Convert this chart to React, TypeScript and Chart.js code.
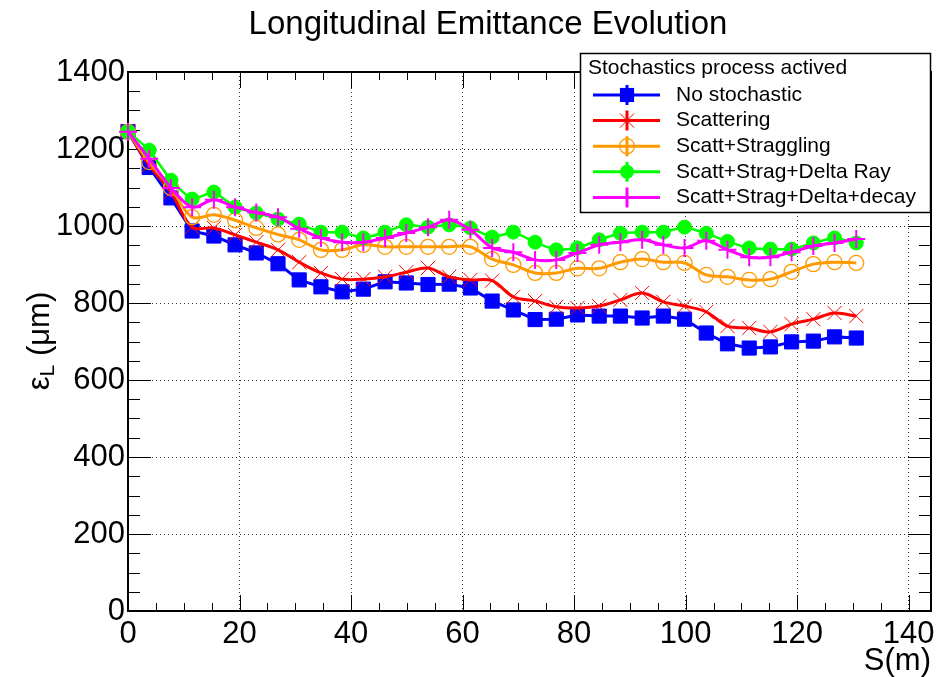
import React, { useEffect, useRef } from 'react';
import { Chart, registerables } from 'chart.js';

Chart.register(...registerables);

// ---- data ----
const S_M = [0, 3.8, 7.7, 11.5, 15.4, 19.2, 23.0, 26.9, 30.7, 34.6, 38.4, 42.2, 46.1, 49.9, 53.8, 57.6, 61.4, 65.3, 69.1, 73.0, 76.8, 80.6, 84.5, 88.3, 92.2, 96.0, 99.8, 103.7, 107.5, 111.4, 115.2, 119.0, 122.9, 126.7, 130.6];

const NO_STOCHASTIC = [1245, 1152, 1073, 987, 974, 951, 930, 902, 860, 842, 829, 836, 855, 852, 848, 849, 839, 805, 782, 757, 758, 769, 766, 766, 761, 766, 758, 722, 694, 683, 686, 699, 701, 712, 709];
const SCATTERING = [1245, 1158, 1088, 997, 995, 977, 958, 938, 906, 878, 862, 862, 868, 880, 891, 868, 860, 858, 816, 805, 790, 787, 792, 808, 826, 803, 792, 777, 740, 735, 725, 745, 758, 774, 766];
const SCATT_STRAGGLING = [1245, 1166, 1099, 1023, 1029, 1015, 995, 978, 964, 938, 938, 951, 946, 946, 946, 946, 946, 914, 899, 878, 878, 890, 890, 906, 914, 906, 904, 873, 868, 860, 862, 881, 901, 906, 904];
const SCATT_STRAG_DELTA_RAY = [1245, 1197, 1119, 1070, 1088, 1049, 1034, 1018, 1005, 984, 984, 969, 984, 1003, 997, 1003, 995, 971, 984, 958, 938, 943, 964, 981, 984, 984, 997, 981, 960, 943, 940, 940, 956, 969, 956];
const SCATT_STRAG_DELTA_DECAY = [1245, 1175, 1099, 1049, 1068, 1049, 1035, 1023, 993, 969, 958, 958, 969, 982, 997, 1016, 990, 943, 932, 912, 912, 930, 951, 958, 964, 951, 943, 962, 938, 919, 919, 932, 948, 956, 966];

const SERIES_LABELS = ['No stochastic', 'Scattering', 'Scatt+Straggling', 'Scatt+Strag+Delta Ray', 'Scatt+Strag+Delta+decay'];
const LEGEND_HEADER = 'Stochastics process actived';
const CHART_TITLE = 'Longitudinal Emittance Evolution';
const X_TITLE = 'S(m)';
const X_TICKS = [0, 20, 40, 60, 80, 100, 120, 140];
const Y_TICKS = [0, 200, 400, 600, 800, 1000, 1200, 1400];

const FONT = '"Liberation Sans", Arial, Helvetica, sans-serif';

type Style = { color: string; marker: string; r: number; fill: boolean; mw: number };
const STYLES: Style[] = [
  { color: '#0000ff', marker: 'rect', r: 10, fill: true, mw: 1 },
  { color: '#ff0000', marker: 'crossRot', r: 10, fill: false, mw: 1 },
  { color: '#ff9900', marker: 'circle', r: 7.5, fill: false, mw: 1.3 },
  { color: '#00ff00', marker: 'circle', r: 7, fill: true, mw: 1 },
  { color: '#ff00ff', marker: 'cross', r: 9, fill: false, mw: 2 },
];

function drawMarker(ctx: CanvasRenderingContext2D, st: Style, x: number, y: number) {
  ctx.save();
  ctx.strokeStyle = st.color;
  ctx.fillStyle = st.color;
  ctx.lineWidth = st.mw;
  const r = st.r;
  ctx.beginPath();
  if (st.marker === 'rect') {
    const h = r * Math.SQRT1_2;
    ctx.rect(x - h, y - h, 2 * h, 2 * h);
    ctx.fill();
  } else if (st.marker === 'circle') {
    ctx.arc(x, y, r, 0, Math.PI * 2);
    if (st.fill) ctx.fill();
    else ctx.stroke();
  } else if (st.marker === 'crossRot') {
    const h = r * Math.SQRT1_2;
    ctx.moveTo(x - h, y - h); ctx.lineTo(x + h, y + h);
    ctx.moveTo(x - h, y + h); ctx.lineTo(x + h, y - h);
    ctx.stroke();
  } else if (st.marker === 'cross') {
    ctx.moveTo(x - r, y); ctx.lineTo(x + r, y);
    ctx.moveTo(x, y - r); ctx.lineTo(x, y + r);
    ctx.stroke();
  }
  ctx.restore();
}

const decorPlugin = {
  id: 'rootDecor',
  beforeDatasetsDraw(chart: any) {
    const { ctx, chartArea, scales } = chart;
    const { left, right, top, bottom } = chartArea;
    const xs = scales.x, ys = scales.y;
    ctx.save();
    ctx.strokeStyle = '#000';
    ctx.lineWidth = 1;
    ctx.beginPath();
    const yStep = (Y_TICKS[1] - Y_TICKS[0]) / 4;
    for (let v = Y_TICKS[0]; v <= Y_TICKS[Y_TICKS.length - 1] + 1e-6; v += yStep) {
      const py = Math.round(ys.getPixelForValue(v)) + 0.5;
      const major = Math.abs((v - Y_TICKS[0]) % (Y_TICKS[1] - Y_TICKS[0])) < 1e-6;
      const len = major ? 23 : 12;
      ctx.moveTo(left, py); ctx.lineTo(left + len, py);
      ctx.moveTo(right, py); ctx.lineTo(right - len, py);
    }
    const xStep = (X_TICKS[1] - X_TICKS[0]) / 4;
    for (let v = X_TICKS[0]; v <= xs.max + 1e-6; v += xStep) {
      const px = Math.round(xs.getPixelForValue(v)) + 0.5;
      const major = Math.abs((v - X_TICKS[0]) % (X_TICKS[1] - X_TICKS[0])) < 1e-6;
      const len = major ? 16 : 8;
      ctx.moveTo(px, bottom); ctx.lineTo(px, bottom - len);
      ctx.moveTo(px, top); ctx.lineTo(px, top + len);
    }
    ctx.stroke();
    ctx.lineWidth = 2;
    ctx.strokeRect(left, top, right - left, bottom - top);
    ctx.restore();
  },
  afterDraw(chart: any) {
    const { ctx, chartArea } = chart;
    const { right } = chartArea;
    ctx.save();
    ctx.fillStyle = '#000';
    // title
    ctx.font = `33px ${FONT}`;
    ctx.textAlign = 'center';
    ctx.textBaseline = 'middle';
    ctx.fillText(CHART_TITLE, 488, 25);
    // x title
    ctx.font = `31px ${FONT}`;
    ctx.textAlign = 'right';
    ctx.fillText(X_TITLE, right, 661);
    // y title (rotated)
    ctx.save();
    ctx.translate(40, 341);
    ctx.rotate(-Math.PI / 2);
    ctx.textAlign = 'left';
    ctx.textBaseline = 'middle';
    const bigF = `31px ${FONT}`, subF = `21px ${FONT}`;
    ctx.font = bigF; const w1 = ctx.measureText('\u03B5').width;
    ctx.font = subF; const w2 = ctx.measureText('L').width;
    ctx.font = bigF; const w3 = ctx.measureText(' (\u03BCm)').width;
    let sx = -(w1 + w2 + w3) / 2;
    ctx.font = bigF; ctx.fillText('\u03B5', sx, 0); sx += w1;
    ctx.font = subF; ctx.fillText('L', sx, 8); sx += w2;
    ctx.font = bigF; ctx.fillText(' (\u03BCm)', sx, 0);
    ctx.restore();
    // legend
    const lx = 580, ly = 53, lw = 350, lh = 159;
    ctx.fillStyle = '#fff';
    ctx.fillRect(lx, ly, lw, lh);
    ctx.strokeStyle = '#000';
    ctx.lineWidth = 1.5;
    ctx.strokeRect(lx + 0.5, ly + 0.5, lw, lh);
    ctx.fillStyle = '#000';
    ctx.font = `21px ${FONT}`;
    ctx.textAlign = 'left';
    ctx.textBaseline = 'middle';
    ctx.fillText(LEGEND_HEADER, 588, 68);
    SERIES_LABELS.forEach((lab, i) => {
      const yy = 95 + i * 25.6;
      const st = STYLES[i];
      ctx.save();
      ctx.strokeStyle = st.color;
      ctx.lineWidth = 3;
      ctx.beginPath();
      ctx.moveTo(593, yy); ctx.lineTo(660, yy);
      ctx.moveTo(627, yy - 10); ctx.lineTo(627, yy + 10);
      ctx.stroke();
      ctx.restore();
      drawMarker(ctx, st, 627, yy);
      ctx.fillStyle = '#000';
      ctx.fillText(lab, 676, yy);
    });
    ctx.restore();
  },
};

export default function App() {
  const ref = useRef<HTMLCanvasElement>(null);
  useEffect(() => {
    document.body.style.margin = '0';
    const canvas = ref.current!;
    const series = [NO_STOCHASTIC, SCATTERING, SCATT_STRAGGLING, SCATT_STRAG_DELTA_RAY, SCATT_STRAG_DELTA_DECAY];
    const tensions = [0, 0.35, 0.35, 0.15, 0.3];
    const lineWidths = [3, 3, 3, 2.5, 3];
    const datasets = series.map((vals, i) => {
      const st = STYLES[i];
      return {
        label: SERIES_LABELS[i],
        data: vals.map((v, k) => ({ x: S_M[k], y: v })),
        borderColor: st.color,
        backgroundColor: st.color,
        borderWidth: lineWidths[i],
        tension: tensions[i],
        pointStyle: st.marker,
        pointRadius: st.r,
        pointBorderWidth: st.mw,
        pointBorderColor: st.color,
        pointBackgroundColor: st.fill ? st.color : 'rgba(0,0,0,0)',
        order: 5 - i,
        clip: false as const,
      };
    });
    const tickFont = { family: FONT, size: 31 };
    const plain = (v: any) => String(v);
    const chart = new Chart(canvas, {
      type: 'line',
      data: { datasets },
      plugins: [decorPlugin],
      options: {
        responsive: false,
        animation: false,
        devicePixelRatio: 1,
        layout: { padding: { left: 0, right: 18, top: 72, bottom: 0 } },
        plugins: { legend: { display: false }, tooltip: { enabled: false }, title: { display: false } },
        scales: {
          x: {
            type: 'linear',
            min: 0,
            max: 144,
            afterFit: (s: any) => { s.height = 66; },
            afterBuildTicks: (s: any) => { s.ticks = X_TICKS.map((v) => ({ value: v })); },
            ticks: { font: tickFont, color: '#000', padding: 5, maxRotation: 0, autoSkip: false, includeBounds: false, callback: plain },
            grid: { color: '#333', lineWidth: 1, drawTicks: false },
            border: { display: false, dash: [1, 3] },
          },
          y: {
            type: 'linear',
            min: 0,
            max: 1400,
            afterFit: (s: any) => { s.width = 128; },
            afterBuildTicks: (s: any) => { s.ticks = Y_TICKS.map((v) => ({ value: v })); },
            ticks: { font: tickFont, color: '#000', padding: 3, autoSkip: false, callback: plain },
            grid: { color: '#333', lineWidth: 1, drawTicks: false },
            border: { display: false, dash: [1, 3] },
          },
        },
      } as any,
    });
    return () => chart.destroy();
  }, []);
  return <canvas ref={ref} width={949} height={677} style={{ display: 'block', width: 949, height: 677 }} />;
}
